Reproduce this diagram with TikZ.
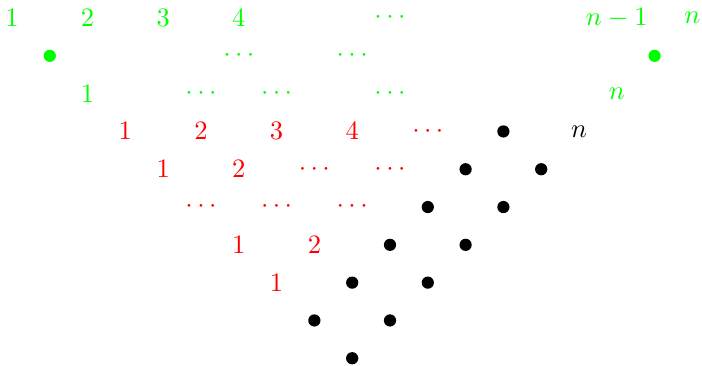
\documentclass[tikz,border=0pt]{standalone}
\begin{document}
\begin{tikzpicture}[x=0.5cm,y=0.5cm,
  gl/.style={text=green,inner sep=0pt},
  rl/.style={text=red,inner sep=0pt},
  bl/.style={text=black,inner sep=0pt},
  gdot/.style={circle,fill=green,inner sep=0pt,minimum size=4.6pt},
  bdot/.style={circle,fill=black,inner sep=0pt,minimum size=4.6pt}]
\useasboundingbox (-0.317,0.477) rectangle (18.254,-9.18);
% row 0
\node[gl] (a1) at (0,0) {$1$};
\node[gl] (a2) at (2,0) {$2$};
\node[gl] (a3) at (4,0) {$3$};
\node[gl] (a4) at (6,0) {$4$};
\node[gl] (ad) at (10,0) {$\cdots$};
\node[gl] (an1) at (16,0) {$n-1$};
\node[gl] (an) at (18,0) {$n$};
% row 1
\node[gdot] (b1) at (1,-1) {};
\node[gl] (bd1) at (6,-1) {$\cdots$};
\node[gl] (bd2) at (9,-1) {$\cdots$};
\node[gdot] (b2) at (17,-1) {};
% row 2
\node[gl] (c1) at (2,-2) {$1$};
\node[gl] (cd1) at (5,-2) {$\cdots$};
\node[gl] (cd2) at (7,-2) {$\cdots$};
\node[gl] (cd3) at (10,-2) {$\cdots$};
\node[gl] (cn) at (16,-2) {$n$};
% row 3
\node[rl] (d1) at (3,-3) {$1$};
\node[rl] (d2) at (5,-3) {$2$};
\node[rl] (d3) at (7,-3) {$3$};
\node[rl] (d4) at (9,-3) {$4$};
\node[rl] (dd) at (11,-3) {$\cdots$};
\node[bdot] (dk) at (13,-3) {};
\node[bl] (dn) at (15,-3) {$n$};
% row 4
\node[rl] (e1) at (4,-4) {$1$};
\node[rl] (e2) at (6,-4) {$2$};
\node[rl] (ed1) at (8,-4) {$\cdots$};
\node[rl] (ed2) at (10,-4) {$\cdots$};
\node[bdot] (ek1) at (12,-4) {};
\node[bdot] (ek2) at (14,-4) {};
% row 5
\node[rl] (fd1) at (5,-5) {$\cdots$};
\node[rl] (fd2) at (7,-5) {$\cdots$};
\node[rl] (fd3) at (9,-5) {$\cdots$};
\node[bdot] (fk1) at (11,-5) {};
\node[bdot] (fk2) at (13,-5) {};
% row 6
\node[rl] (g1) at (6,-6) {$1$};
\node[rl] (g2) at (8,-6) {$2$};
\node[bdot] (gk1) at (10,-6) {};
\node[bdot] (gk2) at (12,-6) {};
% row 7
\node[rl] (h1) at (7,-7) {$1$};
\node[bdot] (hk1) at (9,-7) {};
\node[bdot] (hk2) at (11,-7) {};
% row 8
\node[bdot] (ik1) at (8,-8) {};
\node[bdot] (ik2) at (10,-8) {};
% row 9
\node[bdot] (jk1) at (9,-9) {};
\end{tikzpicture}
\end{document}
